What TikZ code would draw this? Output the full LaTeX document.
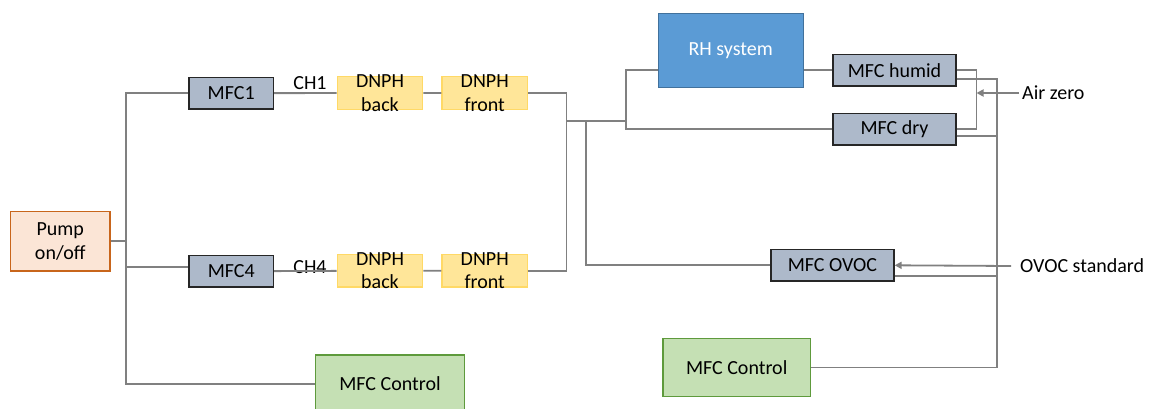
\documentclass[tikz,border=0pt]{standalone}
\usepackage{fontspec}
\setmainfont{Carlito}
\usepackage{tikz}
\usepackage{xcolor}
\usetikzlibrary{arrows.meta}
\definecolor{pipegray}{HTML}{808080}
\definecolor{mfcfill}{HTML}{ADB9CA}
\definecolor{dnphfill}{HTML}{FFE699}
\definecolor{dnphline}{HTML}{FFD966}
\definecolor{pumpfill}{HTML}{FBE5D6}
\definecolor{pumpline}{HTML}{C8651B}
\definecolor{rhfill}{HTML}{5B9BD5}
\definecolor{rhline}{HTML}{41719C}
\definecolor{ctrlfill}{HTML}{C5E0B4}
\definecolor{ctrlline}{HTML}{5E9A3C}

\begin{document}
\begin{tikzpicture}[x=1pt,y=-1pt,font=\fontsize{20}{23.5}\selectfont,
  pipe/.style={draw=pipegray,line width=1.8pt},
  feed/.style={pipe,-{Triangle[length=7pt,width=7pt]}},
  box/.style={line width=1.3pt,inner sep=0pt,align=center},
  mfc/.style={box,draw=black!85,fill=mfcfill,minimum height=31.5pt},
  dnph/.style={box,draw=dnphline,fill=dnphfill,minimum width=85.4pt,minimum height=32.6pt},
  ctrl/.style={box,draw=ctrlline,fill=ctrlfill,minimum height=58pt}]
\useasboundingbox (0,0) rectangle (1153,409);

% sampling side
\node[box,draw=pumpline,fill=pumpfill,minimum width=99.3pt,minimum height=59.3pt] (pump) at (60.3,241.3) {Pump\\on/off};
\node[mfc,minimum width=84.5pt] (mfcone) at (231.2,93.2) {MFC1};
\node[mfc,minimum width=84.5pt] (mfcfour) at (231.3,271.3) {MFC4};
\node[dnph,label={[align=center]center:DNPH\\back}] (backone) at (380,93) {};
\node[dnph,label={[align=center]center:DNPH\\front}] (frontone) at (484.7,93) {};
\node[dnph,label={[align=center]center:DNPH\\back}] (backfour) at (380,270.7) {};
\node[dnph,label={[align=center]center:DNPH\\front}] (frontfour) at (484.7,270.7) {};
\node[ctrl,minimum width=148.7pt] (ctrlleft) at (390,384) {MFC Control};
\node (chone) at (310,82.7) {CH1};
\node (chfour) at (310,267) {CH4};

% dilution side
\node[box,draw=rhline,fill=rhfill,text=white,line width=1pt,minimum width=144.7pt,minimum height=74.4pt] (rh) at (730.7,50.5) {RH system};
\node[mfc,minimum width=123pt] (humid) at (894.5,70.2) {MFC humid};
\node[mfc,minimum width=123pt] (dry) at (894.5,129.2) {MFC dry};
\node[mfc,minimum width=123pt] (ovoc) at (832.5,265.3) {MFC OVOC};
\node[ctrl,minimum width=147.4pt] (ctrlright) at (736.7,367.5) {MFC Control};
\node[anchor=west,inner sep=3pt] (airzero) at (1019,93) {Air zero};
\node[anchor=west,inner sep=3pt] (ovocstd) at (1017,266) {OVOC standard};

\coordinate (trunk) at (126,384);
\coordinate (tapfour) at (126,266.7);
\coordinate (jn) at (566.5,121);
\coordinate (split) at (626,121);
\coordinate (tee) at (586,121);
\coordinate (airin) at (976.5,93);
\coordinate (bus) at (997,367.5);

\draw[pipe] (pump.east) -- (pump.east -| trunk);
\draw[pipe] (mfcone.west) -| (trunk) -- (ctrlleft.west);
\draw[pipe] (tapfour) -- (tapfour -| mfcfour.west);
\draw[pipe] (mfcone) -- (backone) -- (frontone);
\draw[pipe] (mfcfour) -- (backfour) -- (frontfour);
\draw[pipe] (frontone.east) -| (jn) |- (frontfour.east);
\draw[pipe] (jn) -- (split);
\draw[pipe] (rh.west |- humid) -| (split) |- (dry.west);
\draw[pipe] (rh.east |- humid) -- (humid.west);
\draw[pipe] (tee) |- (ovoc.west);
\draw[pipe] (humid.east) -| (airin) |- (dry.east);
\draw[feed] (airzero.west) -- (airin);
\draw[pipe] ([yshift=-9]humid.east) -| (bus) -- (ctrlright.east);
\draw[pipe] ([yshift=-7]dry.east) -| (bus);
\draw[pipe] ([yshift=-10.7]ovoc.east) -| (bus);
\draw[feed] ([xshift=-6]ovocstd.west) -- (ovoc.east);
\end{tikzpicture}
\end{document}
